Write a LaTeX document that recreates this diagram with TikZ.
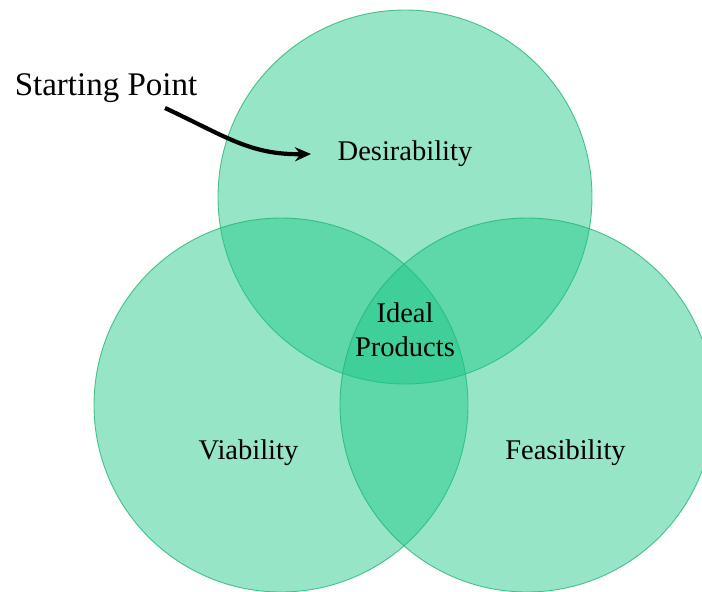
\documentclass[tikz,border=0pt]{standalone}
\usepackage{fontspec}
\setmainfont{Liberation Serif}
\usetikzlibrary{arrows.meta}
\definecolor{vennfill}{RGB}{26,199,133}
\definecolor{vennline}{RGB}{36,182,116}
\tikzset{
  venn/.style={fill=vennfill, fill opacity=0.45, draw=vennline, draw opacity=0.8, line width=0.9pt},
  lbl/.style={font=\fontsize{28.5}{34}\selectfont, text=black, inner sep=0pt, anchor=base},
  pointer/.style={line width=4.2pt, draw=black, -{Stealth[length=16pt,width=14pt]}}
}
\begin{document}
\begin{tikzpicture}[x=1pt,y=-1pt]
\useasboundingbox (0,0) rectangle (702,592);
\fill[white] (0,0) rectangle (702,592);
\begin{scope}
\clip (0,0) rectangle (702,592);
\path[venn] (405,197) circle[radius=187];
\path[venn] (281,405) circle[radius=187];
\path[venn] (527,405) circle[radius=187];
\end{scope}
\node[lbl] (des) at (405,160) {Desirability};
\node[lbl] (ideal) at (405,322) {Ideal};
\node[lbl] (prod) at (405,356) {Products};
\node[lbl] (via) at (248.5,459) {Viability};
\node[lbl] (fea) at (565.5,459) {Feasibility};
\node[lbl, font=\fontsize{33}{39}\selectfont] (start) at (106,95) {Starting Point};
\coordinate (a0) at (165,108);
\coordinate (a1) at (311,154);
\draw[pointer] (a0) .. controls (225,136) and (250,155) .. (a1);
\end{tikzpicture}
\end{document}
